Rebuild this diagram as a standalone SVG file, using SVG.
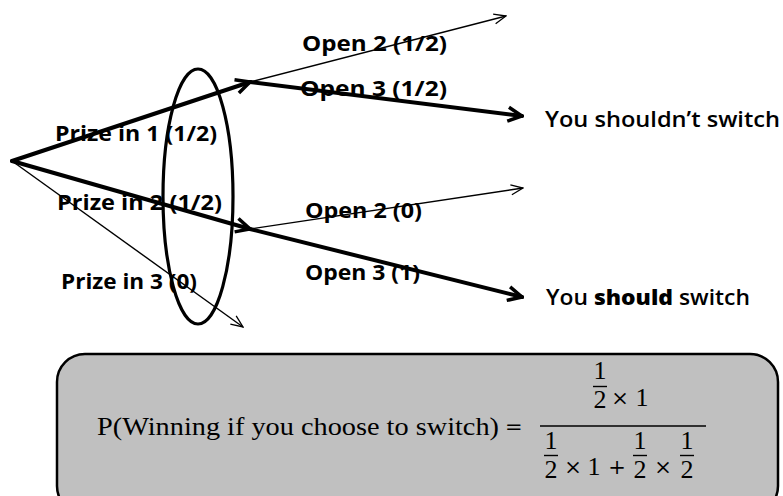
<svg xmlns="http://www.w3.org/2000/svg" width="783" height="496" viewBox="0 0 783 496">
<style>
.lbl{font-family:"Open Sans","Liberation Sans",sans-serif;font-weight:700;font-size:20.5px;fill:#000}
.res{font-family:"Open Sans","Liberation Sans",sans-serif;font-weight:600;font-size:21px;fill:#000}
.math{font-family:"Liberation Serif","DejaVu Serif",serif;font-size:26px;fill:#000}
.op{font-family:"DejaVu Serif","Liberation Serif",serif;font-size:21px;fill:#000}
.thick{stroke:#000;stroke-width:4;fill:none;stroke-linecap:round}
.thin{stroke:#000;stroke-width:1.4;fill:none}
.fbar{stroke:#000;stroke-width:1.4}
</style>
<defs>
<marker id="ahThick" markerUnits="userSpaceOnUse" viewBox="0 0 18 18" markerWidth="18" markerHeight="18" refX="16" refY="9" orient="auto">
<path d="M2,2 L16,9 L2,16" fill="none" stroke="#000" stroke-width="3.5" stroke-linejoin="miter"/>
</marker>
<marker id="ahThin" markerUnits="userSpaceOnUse" viewBox="0 0 14 14" markerWidth="14" markerHeight="14" refX="13" refY="7" orient="auto">
<path d="M1,2 L13,7 L1,12" fill="none" stroke="#000" stroke-width="1.3"/>
</marker>
</defs>
<rect width="783" height="496" fill="#fff"/>

<g id="connectors">
<line class="thick" x1="12" y1="161" x2="250" y2="82" marker-end="url(#ahThick)"/>
<line class="thick" x1="12" y1="161" x2="250" y2="229" marker-end="url(#ahThick)"/>
<line class="thin" x1="12" y1="161" x2="243" y2="327" marker-end="url(#ahThin)"/>
<line class="thin" x1="250" y1="82" x2="506" y2="16" marker-end="url(#ahThin)"/>
<line class="thick" x1="250" y1="82" x2="522" y2="116" marker-end="url(#ahThick)"/>
<line class="thin" x1="250" y1="229" x2="523" y2="188" marker-end="url(#ahThin)"/>
<line class="thick" x1="250" y1="229" x2="522" y2="297" marker-end="url(#ahThick)"/>
</g>

<g id="grouping-ellipse">
<ellipse cx="198" cy="196.5" rx="35" ry="127.5" fill="none" stroke="#000" stroke-width="3.2"/>
</g>

<g id="label-prize1"><text class="lbl" x="55" y="141" textLength="162" lengthAdjust="spacingAndGlyphs">Prize in 1 (1/2)</text></g>
<g id="label-prize2"><text class="lbl" x="57" y="210" textLength="165" lengthAdjust="spacingAndGlyphs">Prize in 2 (1/2)</text></g>
<g id="label-prize3"><text class="lbl" x="61" y="289" textLength="136" lengthAdjust="spacingAndGlyphs">Prize in 3 (0)</text></g>
<g id="label-open2-a"><text class="lbl" x="302" y="51" textLength="145" lengthAdjust="spacingAndGlyphs">Open 2 (1/2)</text></g>
<g id="label-open3-a"><text class="lbl" x="300" y="96" textLength="147" lengthAdjust="spacingAndGlyphs">Open 3 (1/2)</text></g>
<g id="label-open2-b"><text class="lbl" x="305" y="218" textLength="117" lengthAdjust="spacingAndGlyphs">Open 2 (0)</text></g>
<g id="label-open3-b"><text class="lbl" x="305" y="280" textLength="115" lengthAdjust="spacingAndGlyphs">Open 3 (1)</text></g>
<g id="result-no-switch"><text class="res" x="545" y="127" textLength="235" lengthAdjust="spacingAndGlyphs">You shouldn’t switch</text></g>
<g id="result-switch"><text class="res" x="546" y="305" textLength="204" lengthAdjust="spacingAndGlyphs">You <tspan font-weight="800">should</tspan> switch</text></g>

<g id="formula">
<rect x="57" y="354" width="721" height="160" rx="28" ry="28" fill="#c0c0c0" stroke="#000" stroke-width="2.5"/>
<text class="math" x="97" y="435" textLength="402" lengthAdjust="spacingAndGlyphs">P(Winning if you choose to switch)</text>
<text class="op" x="505" y="434">=</text>
<line class="fbar" x1="540" y1="426" x2="706" y2="426"/>
<!-- numerator -->
<text class="math" x="600" y="379" text-anchor="middle">1</text>
<line class="fbar" x1="593" y1="386.5" x2="607" y2="386.5"/>
<text class="math" x="600" y="408" text-anchor="middle">2</text>
<text class="op" x="620" y="405" text-anchor="middle">×</text>
<text class="math" x="642" y="406" text-anchor="middle">1</text>
<!-- denominator -->
<text class="math" x="551" y="449" text-anchor="middle">1</text>
<line class="fbar" x1="544" y1="455.5" x2="558" y2="455.5"/>
<text class="math" x="551" y="478" text-anchor="middle">2</text>
<text class="op" x="573" y="474" text-anchor="middle">×</text>
<text class="math" x="594" y="475" text-anchor="middle">1</text>
<text class="op" x="617" y="474" text-anchor="middle">+</text>
<text class="math" x="640" y="449" text-anchor="middle">1</text>
<line class="fbar" x1="633" y1="455.5" x2="647" y2="455.5"/>
<text class="math" x="640" y="478" text-anchor="middle">2</text>
<text class="op" x="663" y="474" text-anchor="middle">×</text>
<text class="math" x="687" y="449" text-anchor="middle">1</text>
<line class="fbar" x1="680" y1="455.5" x2="694" y2="455.5"/>
<text class="math" x="687" y="478" text-anchor="middle">2</text>
</g>
</svg>
